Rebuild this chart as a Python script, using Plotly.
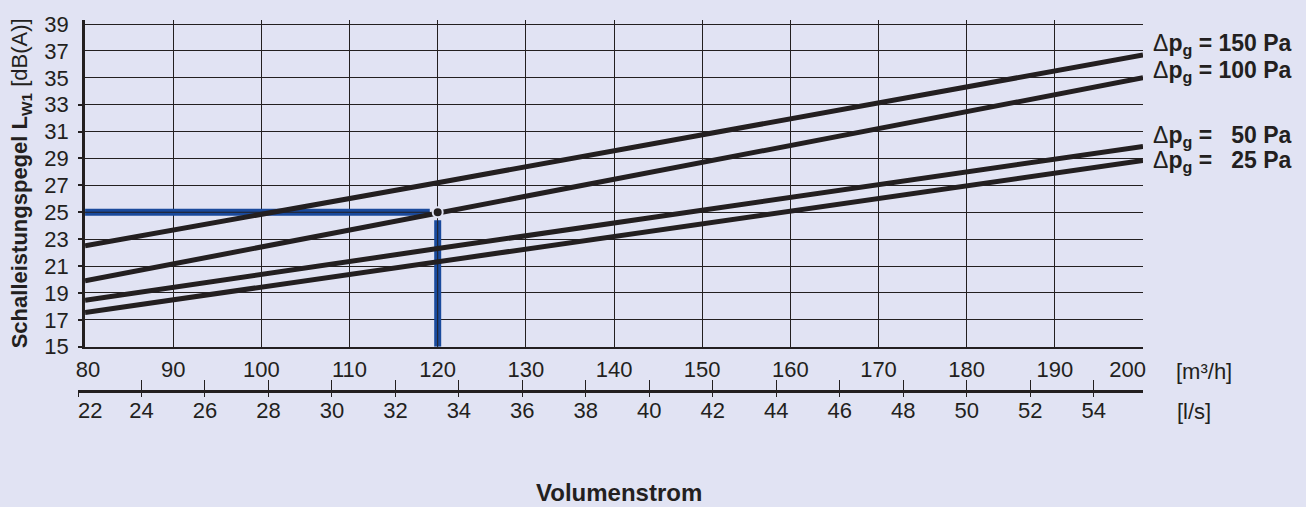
import plotly.graph_objects as go

# ---- data ----
flow_m3h = [80, 120, 200]
lw_150 = [22.5, 27.2, 36.7]
lw_100 = [19.9, 24.95, 35.0]
lw_50 = [18.45, 22.3, 29.9]
lw_25 = [17.55, 21.3, 28.85]
series = [("150 Pa", lw_150), ("100 Pa", lw_100), ("50 Pa", lw_50), ("25 Pa", lw_25)]

label_text = ["= 150 Pa", "= 100 Pa", "=\u00a0\u00a0\u00a050 Pa", "=\u00a0\u00a0\u00a025 Pa"]
label_y = [37.45, 35.45, 30.65, 28.8]

op_flow = 120
op_lw = 25
read_h_x = [80, 119.1]
read_h_y = [25, 25]
read_v_x = [120, 120]
read_v_y = [15, 24.4]

m3h_ticks = list(range(80, 201, 10))
ls_ticks = list(range(22, 55, 2))
y_ticks = list(range(15, 40, 2))
y_ticks_marked = list(range(15, 34, 2))

NB = "\u00a0"
m3h_text = [str(v) for v in m3h_ticks]
m3h_text[0] = NB + m3h_text[0]
m3h_text[-1] = m3h_text[-1] + NB * 5
ls_text = [str(v) for v in ls_ticks]
ls_text[0] = NB * 4 + ls_text[0]

# ---- styling ----
W, H = 1306, 507
ML, MR, MT, MB = 78, 163, 15, 107
PW, PH = W - ML - MR, H - MT - MB
BG = "#e1e3f3"
INK = "#231f20"
BLUE = "#1a4a9c"
FONT = "Arial, Liberation Sans, sans-serif"
TF = 22


def px_x(px):
    return (px - ML) / PW


def px_y(py):
    return (H - MB - py) / PH


ls_lo = 22
ls_hi = 200 / 3.6
x_dom0 = (80 / 3.6 - ls_lo) / (ls_hi - ls_lo)
y_dom0 = px_y(346)

fig = go.Figure()

# reading example (blue)
fig.add_trace(go.Scatter(x=read_h_x, y=read_h_y, mode="lines",
                         line=dict(color=BLUE, width=7), hoverinfo="skip", showlegend=False))
fig.add_trace(go.Scatter(x=read_v_x, y=read_v_y, mode="lines",
                         line=dict(color=BLUE, width=7), hoverinfo="skip", showlegend=False))
# grid line visible through the blue lines
fig.add_trace(go.Scatter(x=read_h_x, y=read_h_y, mode="lines",
                         line=dict(color=INK, width=1), hoverinfo="skip", showlegend=False))
fig.add_trace(go.Scatter(x=read_v_x, y=read_v_y, mode="lines",
                         line=dict(color=INK, width=1), hoverinfo="skip", showlegend=False))

for name, vals in series:
    fig.add_trace(go.Scatter(x=flow_m3h, y=vals, mode="lines", name=name,
                             line=dict(color=INK, width=5), showlegend=False))

fig.add_trace(go.Scatter(x=[op_flow], y=[op_lw], mode="markers",
                         marker=dict(color=INK, size=10, line=dict(color=BG, width=2)),
                         showlegend=False, hoverinfo="skip"))

# dummy traces to activate helper axes
fig.add_trace(go.Scatter(x=ls_ticks, y=[None] * len(ls_ticks), xaxis="x2", yaxis="y3",
                         mode="lines", showlegend=False, hoverinfo="skip"))
fig.add_trace(go.Scatter(x=ls_ticks, y=[None] * len(ls_ticks), xaxis="x3", yaxis="y3",
                         mode="lines", showlegend=False, hoverinfo="skip"))
fig.add_trace(go.Scatter(x=m3h_ticks, y=[None] * len(m3h_ticks), xaxis="x", yaxis="y2",
                         mode="lines", showlegend=False, hoverinfo="skip"))

annotations = []
for txt, yv in zip(label_text, label_y):
    annotations.append(dict(
        xref="paper", yref="y", x=px_x(1151), y=yv, xanchor="left", yanchor="middle",
        text="\u0394<b>p<sub>g</sub> " + txt + "</b>", showarrow=False,
        font=dict(size=23, color=INK, family=FONT)))
annotations.append(dict(xref="paper", yref="paper", x=px_x(1174), y=px_y(371),
                        xanchor="left", yanchor="middle", text="[m³/h]", showarrow=False,
                        font=dict(size=TF, color=INK, family=FONT)))
annotations.append(dict(xref="paper", yref="paper", x=px_x(1175), y=px_y(412),
                        xanchor="left", yanchor="middle", text="[l/s]", showarrow=False,
                        font=dict(size=TF, color=INK, family=FONT)))
annotations.append(dict(xref="paper", yref="paper", x=px_x(619), y=px_y(494),
                        xanchor="center", yanchor="middle", text="<b>Volumenstrom</b>",
                        showarrow=False, font=dict(size=24, color=INK, family=FONT)))

fig.update_layout(
    width=W, height=H,
    margin=dict(l=ML, r=MR, t=MT, b=MB, pad=0),
    paper_bgcolor=BG, plot_bgcolor="rgba(0,0,0,0)",
    font=dict(family=FONT, color=INK, size=TF),
    showlegend=False,
    annotations=annotations,
    xaxis=dict(domain=[x_dom0, 1], range=[80, 200], anchor="y",
               tickmode="array", tickvals=m3h_ticks, ticktext=m3h_text, ticks="",
               showgrid=True, gridcolor=INK, gridwidth=1,
               showline=True, linecolor=INK, linewidth=2,
               zeroline=False, tickfont=dict(size=TF, color=INK),
               ticklabelstandoff=2),
    xaxis2=dict(domain=[0, 1], range=[ls_lo, ls_hi], anchor="free", position=px_y(390.7),
                tickmode="array", tickvals=ls_ticks, ticktext=ls_text,
                ticks="outside", ticklen=4,
                tickwidth=1.2, tickcolor=INK,
                showgrid=False, zeroline=False,
                showline=True, linecolor=INK, linewidth=2.5,
                tickfont=dict(size=TF, color=INK), ticklabelstandoff=-5),
    xaxis3=dict(domain=[0, 1], range=[ls_lo, ls_hi], anchor="free", position=px_y(390.7),
                overlaying="x2",
                tickmode="array", tickvals=ls_ticks, ticks="inside", ticklen=11,
                tickwidth=1.2, tickcolor=INK, showticklabels=False,
                showgrid=False, zeroline=False, showline=False),
    yaxis=dict(domain=[y_dom0, 1], range=[15, 39.3], anchor="x",
               tickmode="array", tickvals=y_ticks, ticks="",
               showgrid=True, gridcolor=INK, gridwidth=1,
               showline=True, linecolor=INK, linewidth=3,
               zeroline=False, tickfont=dict(size=TF, color=INK),
               ticklabelstandoff=9,
               title=dict(text="<b>Schalleistungspegel L<sub>W1</sub></b> [dB(A)]",
                          font=dict(size=22, color=INK), standoff=11)),
    yaxis2=dict(overlaying="y", range=[15, 39.3], anchor="x", side="left",
                tickmode="array", tickvals=y_ticks_marked, ticks="outside", ticklen=6,
                tickwidth=1.5, tickcolor=INK, showticklabels=False,
                showgrid=False, zeroline=False, showline=False),
    yaxis3=dict(domain=[0, 0.02], range=[0, 1], visible=False, anchor="x2"),
)

fig.write_html("out.html", config={"displayModeBar": False},
               post_script="document.body.style.margin='0';")
